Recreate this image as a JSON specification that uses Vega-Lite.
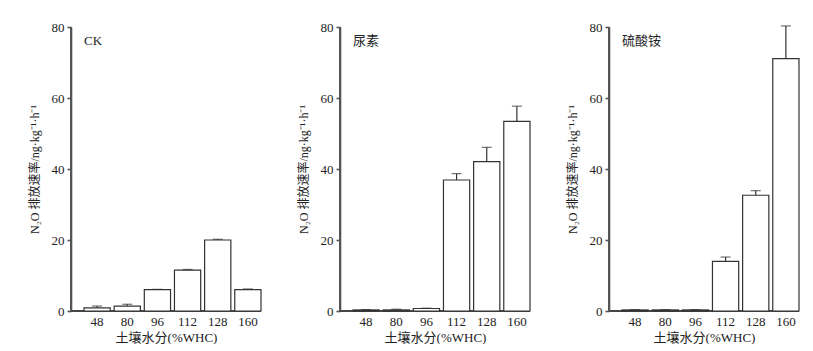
{
  "$schema": "https://vega.github.io/schema/vega-lite/v6.json",
  "padding": {"top": 21, "left": 28, "right": 0, "bottom": 0},
  "background": "white",
  "datasets": {
    "d": [
      {"treat": "CK", "whc": "48", "value": 0.9, "upper": 1.4},
      {"treat": "CK", "whc": "80", "value": 1.4, "upper": 1.9},
      {"treat": "CK", "whc": "96", "value": 6.0, "upper": 6.1},
      {"treat": "CK", "whc": "112", "value": 11.5, "upper": 11.7},
      {"treat": "CK", "whc": "128", "value": 20.0, "upper": 20.2},
      {"treat": "CK", "whc": "160", "value": 6.0, "upper": 6.2},
      {"treat": "尿素", "whc": "48", "value": 0.3, "upper": 0.4},
      {"treat": "尿素", "whc": "80", "value": 0.3, "upper": 0.5},
      {"treat": "尿素", "whc": "96", "value": 0.7, "upper": 0.8},
      {"treat": "尿素", "whc": "112", "value": 36.9, "upper": 38.7},
      {"treat": "尿素", "whc": "128", "value": 42.1, "upper": 46.1},
      {"treat": "尿素", "whc": "160", "value": 53.4, "upper": 57.7},
      {"treat": "硫酸铵", "whc": "48", "value": 0.3, "upper": 0.4},
      {"treat": "硫酸铵", "whc": "80", "value": 0.3, "upper": 0.4},
      {"treat": "硫酸铵", "whc": "96", "value": 0.3, "upper": 0.4},
      {"treat": "硫酸铵", "whc": "112", "value": 14.0, "upper": 15.2},
      {"treat": "硫酸铵", "whc": "128", "value": 32.6, "upper": 33.9},
      {"treat": "硫酸铵", "whc": "160", "value": 71.1, "upper": 80.3}
    ]
  },
  "spacing": 35,
  "hconcat": [
    {
      "width": 190, "height": 284,
      "data": {"name": "d"},
      "transform": [{"filter": "datum.treat === 'CK'"}],
      "layer": [
        {"mark": {"type": "rule", "color": "#444", "strokeWidth": 1.2}, "encoding": {"y": {"datum": 0, "type": "quantitative"}}},
        {"mark": {"type": "bar", "fill": "white", "stroke": "#333", "strokeWidth": 1.2},
         "encoding": {
           "x": {"field": "whc", "type": "nominal", "sort": null, "title": "土壤水分(%WHC)",
                 "scale": {"domain": ["48","80","96","112","128","160"], "range": [13, 190], "paddingInner": 0.13, "paddingOuter": 0},
                 "axis": {"domain": false, "ticks": false, "labelAngle": 0, "labelPadding": 4, "titlePadding": 3, "titleX": 95}},
           "y": {"field": "value", "type": "quantitative", "title": "N₂O 排放速率/ng·kg⁻¹·h⁻¹",
                 "scale": {"domain": [0, 80], "nice": false},
                 "axis": {"values": [0,20,40,60,80], "grid": false}}
         }},
        {"mark": {"type": "rule", "color": "#555", "strokeWidth": 1.4},
         "encoding": {"x": {"datum": "48", "type": "nominal", "bandPosition": -0.5}}},
        {"mark": {"type": "rule", "color": "#333", "strokeWidth": 1.2},
         "encoding": {"x": {"field": "whc", "type": "nominal", "sort": null}, "y": {"field": "value", "type": "quantitative"}, "y2": {"field": "upper"}}},
        {"mark": {"type": "tick", "size": 10, "thickness": 1.2, "color": "#333"},
         "encoding": {"x": {"field": "whc", "type": "nominal", "sort": null}, "y": {"field": "upper", "type": "quantitative"}}},
        {"transform": [{"filter": "datum.whc === '48'"}],
         "mark": {"type": "text", "align": "left", "baseline": "middle", "fontSize": 13, "font": "Liberation Serif, Noto Sans CJK SC", "color": "#222"},
         "encoding": {"x": {"field": "whc", "type": "nominal", "sort": null, "bandPosition": 0}, "y": {"datum": 76, "type": "quantitative"}, "text": {"field": "treat"}}}
      ]
    },
    {
      "width": 190, "height": 284,
      "data": {"name": "d"},
      "transform": [{"filter": "datum.treat === '尿素'"}],
      "layer": [
        {"mark": {"type": "rule", "color": "#444", "strokeWidth": 1.2}, "encoding": {"y": {"datum": 0, "type": "quantitative"}}},
        {"mark": {"type": "bar", "fill": "white", "stroke": "#333", "strokeWidth": 1.2},
         "encoding": {
           "x": {"field": "whc", "type": "nominal", "sort": null, "title": "土壤水分(%WHC)",
                 "scale": {"domain": ["48","80","96","112","128","160"], "range": [13, 190], "paddingInner": 0.13, "paddingOuter": 0},
                 "axis": {"domain": false, "ticks": false, "labelAngle": 0, "labelPadding": 4, "titlePadding": 3, "titleX": 95}},
           "y": {"field": "value", "type": "quantitative", "title": "N₂O 排放速率/ng·kg⁻¹·h⁻¹",
                 "scale": {"domain": [0, 80], "nice": false},
                 "axis": {"values": [0,20,40,60,80], "grid": false}}
         }},
        {"mark": {"type": "rule", "color": "#555", "strokeWidth": 1.4},
         "encoding": {"x": {"datum": "48", "type": "nominal", "bandPosition": -0.5}}},
        {"mark": {"type": "rule", "color": "#333", "strokeWidth": 1.2},
         "encoding": {"x": {"field": "whc", "type": "nominal", "sort": null}, "y": {"field": "value", "type": "quantitative"}, "y2": {"field": "upper"}}},
        {"mark": {"type": "tick", "size": 10, "thickness": 1.2, "color": "#333"},
         "encoding": {"x": {"field": "whc", "type": "nominal", "sort": null}, "y": {"field": "upper", "type": "quantitative"}}},
        {"transform": [{"filter": "datum.whc === '48'"}],
         "mark": {"type": "text", "align": "left", "baseline": "middle", "fontSize": 13, "font": "Liberation Serif, Noto Sans CJK SC", "color": "#222"},
         "encoding": {"x": {"field": "whc", "type": "nominal", "sort": null, "bandPosition": 0}, "y": {"datum": 76, "type": "quantitative"}, "text": {"field": "treat"}}}
      ]
    },
    {
      "width": 190, "height": 284,
      "data": {"name": "d"},
      "transform": [{"filter": "datum.treat === '硫酸铵'"}],
      "layer": [
        {"mark": {"type": "rule", "color": "#444", "strokeWidth": 1.2}, "encoding": {"y": {"datum": 0, "type": "quantitative"}}},
        {"mark": {"type": "bar", "fill": "white", "stroke": "#333", "strokeWidth": 1.2},
         "encoding": {
           "x": {"field": "whc", "type": "nominal", "sort": null, "title": "土壤水分(%WHC)",
                 "scale": {"domain": ["48","80","96","112","128","160"], "range": [13, 190], "paddingInner": 0.13, "paddingOuter": 0},
                 "axis": {"domain": false, "ticks": false, "labelAngle": 0, "labelPadding": 4, "titlePadding": 3, "titleX": 95}},
           "y": {"field": "value", "type": "quantitative", "title": "N₂O 排放速率/ng·kg⁻¹·h⁻¹",
                 "scale": {"domain": [0, 80], "nice": false},
                 "axis": {"values": [0,20,40,60,80], "grid": false}}
         }},
        {"mark": {"type": "rule", "color": "#555", "strokeWidth": 1.4},
         "encoding": {"x": {"datum": "48", "type": "nominal", "bandPosition": -0.5}}},
        {"mark": {"type": "rule", "color": "#333", "strokeWidth": 1.2},
         "encoding": {"x": {"field": "whc", "type": "nominal", "sort": null}, "y": {"field": "value", "type": "quantitative"}, "y2": {"field": "upper"}}},
        {"mark": {"type": "tick", "size": 10, "thickness": 1.2, "color": "#333"},
         "encoding": {"x": {"field": "whc", "type": "nominal", "sort": null}, "y": {"field": "upper", "type": "quantitative"}}},
        {"transform": [{"filter": "datum.whc === '48'"}],
         "mark": {"type": "text", "align": "left", "baseline": "middle", "fontSize": 13, "font": "Liberation Serif, Noto Sans CJK SC", "color": "#222"},
         "encoding": {"x": {"field": "whc", "type": "nominal", "sort": null, "bandPosition": 0}, "y": {"datum": 76, "type": "quantitative"}, "text": {"field": "treat"}}}
      ]
    }
  ],
  "config": {
    "view": {"stroke": null},
    "axis": {
      "labelFont": "Liberation Serif", "labelFontSize": 13, "labelColor": "#222",
      "titleFont": "Liberation Serif, Noto Sans CJK SC", "titleFontSize": 13, "titleFontWeight": "normal", "titleColor": "#222"
    },
    "axisY": {"titleFontSize": 12, "domain": true, "domainColor": "#555", "domainWidth": 1.6, "ticks": true, "tickColor": "#555", "tickWidth": 1.6, "tickSize": 4, "labelPadding": 3, "titlePadding": 10}
  }
}
